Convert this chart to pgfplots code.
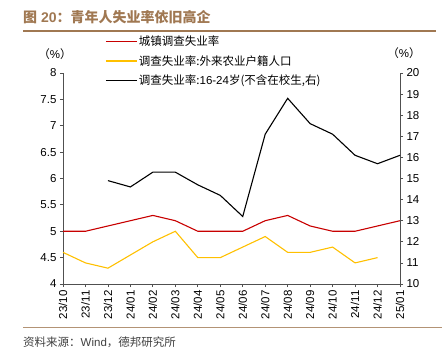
\documentclass[border=0pt]{standalone}
\usepackage{pgfplots}
\pgfplotsset{compat=1.18}
\usepackage{fontspec}
\setmainfont{Liberation Sans}
\newfontfamily\cjk{Noto Sans CJK SC}
\definecolor{myred}{RGB}{200,0,0}
\definecolor{myyellow}{RGB}{255,192,0}
\definecolor{brown1}{RGB}{160,120,82}
\definecolor{axgray}{RGB}{80,80,80}
\begin{document}
\begin{tikzpicture}
\useasboundingbox (0pt,0pt) rectangle (442pt,-361pt);
% title
\node[anchor=west,text=brown1,inner sep=0] at (23pt,-17.5pt) {\fontsize{14}{16}\selectfont\bfseries{\cjk 图} 20{\cjk ：青年人失业率依旧高企}};
\draw[brown1,line width=2pt] (23pt,-30.7pt) -- (436pt,-30.7pt);
\draw[brown1!80,line width=1.3pt] (23pt,-327.7pt) -- (442pt,-327.7pt);
\node[anchor=west,inner sep=0,text=black!75] at (23pt,-342pt) {\fontsize{11.5}{13}\selectfont{\cjk 资料来源：}Wind{\cjk ，德邦研究所}};
% unit labels
\node[inner sep=0] at (55pt,-54pt) {\fontsize{11.5}{13}\selectfont{\cjk （}\%{\cjk ）}};
\node[inner sep=0] at (404pt,-53pt) {\fontsize{11.5}{13}\selectfont{\cjk （}\%{\cjk ）}};
\begin{axis}[
  at={(63pt,-284pt)}, anchor=south west,
  scale only axis, width=337pt, height=211pt,
  xmin=0, xmax=15, ymin=4, ymax=8,
  axis x line*=bottom, axis y line*=left,
  axis line style={axgray,line width=0.9pt},
  xtick={0,...,15},
  xticklabels={23/10,23/11,23/12,24/01,24/02,24/03,24/04,24/05,24/06,24/07,24/08,24/09,24/10,24/11,24/12,25/01},
  ytick={4,4.5,...,8},
  tick align=outside, major tick length=3pt,
  tick style={axgray,line width=0.8pt},
  x tick label style={rotate=90,anchor=east,font=\fontsize{11.5}{13}\selectfont},
  y tick label style={font=\fontsize{11.5}{13}\selectfont},
  /pgf/number format/assume math mode=true,
  yticklabel style={/pgf/number format/fixed},
  legend style={at={(0.125,1.185)},anchor=north west,draw=none,fill=none,
    font=\fontsize{11.5}{13}\selectfont,row sep=5.5pt,inner sep=0pt,
    nodes={inner sep=1.5pt}},
  legend cell align=left,
  legend image code/.code={\draw[#1] (0pt,0pt) -- (31pt,0pt);},
  clip=false,
]
\addplot[myred,line width=1.1pt] coordinates {(0,5.0)(1,5.0)(2,5.1)(3,5.2)(4,5.3)(5,5.2)(6,5.0)(7,5.0)(8,5.0)(9,5.2)(10,5.3)(11,5.1)(12,5.0)(13,5.0)(14,5.1)(15,5.2)};
\addlegendentry{{\cjk 城镇调查失业率}}
\addplot[myyellow,line width=1.1pt] coordinates {(0,4.6)(1,4.4)(2,4.3)(4,4.8)(5,5.0)(6,4.5)(7,4.5)(8,4.7)(9,4.9)(10,4.6)(11,4.6)(12,4.7)(13,4.4)(14,4.5)};
\addlegendentry{{\cjk 调查失业率:外来农业户籍人口}}
\addlegendimage{black,line width=1.1pt}
\addlegendentry{{\cjk 调查失业率:}16-24{\cjk 岁(不含在校生,右)}}
\end{axis}
\begin{axis}[
  at={(63pt,-284pt)}, anchor=south west,
  scale only axis, width=337pt, height=211pt,
  xmin=0, xmax=15, ymin=10, ymax=20,
  axis y line*=right, axis x line=none,
  axis line style={axgray,line width=0.9pt},
  ytick={10,...,20},
  tick align=outside, major tick length=3pt,
  tick style={axgray,line width=0.8pt},
  y tick label style={font=\fontsize{11.5}{13}\selectfont},
  /pgf/number format/assume math mode=true,
]
\addplot[black,line width=1.1pt] coordinates {(2,14.9)(3,14.6)(4,15.3)(5,15.3)(6,14.7)(7,14.2)(8,13.2)(9,17.1)(10,18.8)(11,17.6)(12,17.1)(13,16.1)(14,15.7)(15,16.1)};
\end{axis}
\end{tikzpicture}
\end{document}
